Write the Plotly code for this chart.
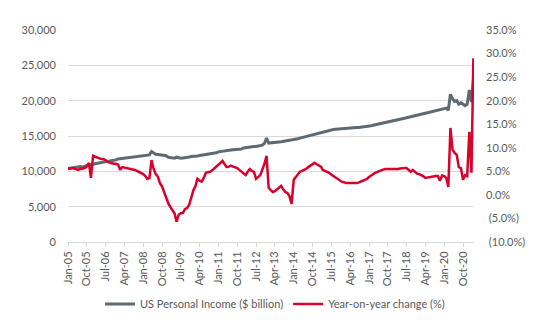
import pandas as pd
import plotly.graph_objects as go

# Monthly dates Jan-2005 .. Mar-2021
months = pd.date_range("2005-01-01", "2021-03-01", freq="MS").strftime("%Y-%m-%d").tolist()

# US Personal Income ($ billion)
income = [
    # 2005
    10400, 10430, 10470, 10520, 10570, 10620, 10680, 10600, 10760, 10830, 10900, 10960,
    # 2006
    11100, 11150, 11200, 11240, 11280, 11320, 11370, 11420, 11460, 11500, 11560, 11620,
    # 2007
    11760, 11800, 11850, 11880, 11900, 11940, 11980, 12010, 12060, 12090, 12130, 12180,
    # 2008
    12260, 12270, 12290, 12330, 12800, 12560, 12420, 12380, 12350, 12330, 12280, 12200,
    # 2009
    11980, 11950, 11900, 11870, 12000, 11880, 11860, 11900, 11920, 11960, 12020, 12100,
    # 2010
    12100, 12130, 12180, 12250, 12300, 12340, 12380, 12420, 12450, 12500, 12550, 12620,
    # 2011
    12760, 12820, 12860, 12910, 12940, 12980, 13020, 13050, 13070, 13100, 13130, 13160,
    # 2012
    13300, 13360, 13420, 13460, 13470, 13500, 13510, 13550, 13600, 13700, 13950, 14700,
    # 2013
    14000, 14050, 14100, 14120, 14140, 14160, 14190, 14240, 14290, 14310, 14330, 14360,
    # 2014
    14450, 14520, 14600, 14700, 14780, 14860, 14940, 15020, 15100, 15180, 15260, 15340,
    # 2015
    15450, 15530, 15600, 15680, 15760, 15830, 15880, 15930, 15970, 16000, 16030, 16060,
    # 2016
    16070, 16090, 16110, 16130, 16150, 16170, 16190, 16210, 16240, 16270, 16300, 16340,
    # 2017
    16400, 16460, 16520, 16580, 16640, 16700, 16760, 16820, 16880, 16940, 17000, 17060,
    # 2018
    17150, 17230, 17310, 17380, 17450, 17520, 17590, 17650, 17720, 17790, 17860, 17930,
    # 2019
    18020, 18090, 18160, 18230, 18300, 18370, 18440, 18510, 18580, 18650, 18700, 18780,
    # 2020
    18850, 18950, 18650, 20900, 20300, 19900, 20000, 19500, 19700, 19500, 19300, 19500,
    # 2021
    21500, 19800, 23000,
]

# Year-on-year change (%)
yoy = [
    # 2005
    5.5, 5.6, 5.7, 5.6, 5.4, 5.3, 5.5, 5.6, 5.7, 6.0, 6.8, 3.6,
    # 2006
    8.3, 8.1, 7.9, 7.8, 7.6, 7.6, 7.4, 7.0, 6.8, 6.7, 6.6, 6.6,
    # 2007
    6.4, 5.3, 5.9, 5.8, 5.7, 5.7, 5.5, 5.4, 5.3, 5.1, 4.9, 4.7,
    # 2008
    4.4, 4.0, 3.4, 3.6, 7.4, 5.5, 4.4, 3.9, 2.5, 1.8, 0.6, -0.8,
    # 2009
    -1.8, -2.6, -3.3, -3.9, -5.7, -4.2, -3.9, -3.8, -3.0, -2.8, -2.1, -0.3,
    # 2010
    1.0, 1.9, 3.4, 3.0, 2.8, 3.6, 4.7, 4.8, 4.9, 5.2, 5.6, 5.9,
    # 2011
    6.4, 6.8, 7.2, 6.5, 5.9, 6.0, 6.2, 6.0, 5.8, 5.7, 5.3, 4.9,
    # 2012
    4.5, 4.2, 4.9, 5.5, 5.1, 4.9, 3.4, 3.8, 4.2, 5.4, 6.6, 8.3,
    # 2013
    1.5, 1.0, 0.6, 0.8, 1.1, 1.5, 1.9, 1.2, 0.6, 0.4, -0.3, -1.9,
    # 2014
    3.2, 3.8, 4.3, 4.9, 5.1, 5.3, 5.5, 5.9, 6.2, 6.5, 6.8, 6.5,
    # 2015
    6.2, 6.0, 5.3, 5.1, 4.9, 4.7, 4.3, 4.0, 3.6, 3.3, 3.0, 2.8,
    # 2016
    2.7, 2.5, 2.5, 2.5, 2.4, 2.5, 2.5, 2.6, 2.9, 3.0, 3.2, 3.4,
    # 2017
    3.8, 4.2, 4.4, 4.7, 4.9, 5.0, 5.2, 5.4, 5.5, 5.5, 5.4, 5.5,
    # 2018
    5.5, 5.5, 5.5, 5.6, 5.7, 5.7, 5.7, 5.2, 4.9, 5.3, 4.9, 4.5,
    # 2019
    4.4, 4.2, 4.0, 3.6, 3.7, 3.8, 3.8, 3.9, 4.0, 4.0, 3.0, 4.1,
    # 2020
    4.0, 3.6, 1.7, 14.2, 9.6, 8.9, 8.5, 5.9, 5.7, 3.2, 4.2, 4.0,
    # 2021
    13.4, 4.7, 29.0,
]

tick_dates = ["2005-01-01", "2005-10-01", "2006-07-01", "2007-04-01", "2008-01-01",
              "2008-10-01", "2009-07-01", "2010-04-01", "2011-01-01", "2011-10-01",
              "2012-07-01", "2013-04-01", "2014-01-01", "2014-10-01", "2015-07-01",
              "2016-04-01", "2017-01-01", "2017-10-01", "2018-07-01", "2019-04-01",
              "2020-01-01", "2020-10-01"]
tick_labels = ["Jan-05", "Oct-05", "Jul-06", "Apr-07", "Jan-08", "Oct-08", "Jul-09",
               "Apr-10", "Jan-11", "Oct-11", "Jul-12", "Apr-13", "Jan-14", "Oct-14",
               "Jul-15", "Apr-16", "Jan-17", "Oct-17", "Jul-18", "Apr-19", "Jan-20",
               "Oct-20"]

left_ticks = [0, 5000, 10000, 15000, 20000, 25000, 30000]
right_ticks = [-10, -5, 0, 5, 10, 15, 20, 25, 30, 35]
right_labels = [" (10.0%)", " (5.0%)", "0.0%", "5.0%", "10.0%", "15.0%", "20.0%",
                "25.0%", "30.0%", "35.0%"]

FONT = "Lato"
TXT = "#595959"
GRID = "#d9d9d9"

fig = go.Figure()
fig.add_trace(go.Scatter(x=months, y=income, mode="lines",
                         name="US Personal Income ($ billion)",
                         line=dict(color="#5e6a72", width=3)))
fig.add_trace(go.Scatter(x=months, y=yoy, mode="lines", yaxis="y2",
                         name="Year-on-year change (%)",
                         line=dict(color="#d9002b", width=2.5)))

fig.update_layout(
    width=550, height=330, autosize=False,
    margin=dict(l=68, r=76, t=30, b=88, autoexpand=False),
    paper_bgcolor="white", plot_bgcolor="white",
    font=dict(family=FONT, size=11, color=TXT),
    showlegend=True,
    legend=dict(orientation="h", x=0.5, xanchor="center", xref="container",
                y=0.079, yanchor="middle", yref="container",
                font=dict(family=FONT, size=11, color=TXT),
                itemwidth=30, tracegroupgap=0),
    xaxis=dict(type="date", range=["2005-01-01", "2021-03-10"],
               tickvals=tick_dates, ticktext=tick_labels, tickangle=-90,
               showgrid=False, showline=True, linecolor=GRID, linewidth=1,
               ticks="outside", ticklen=4, tickcolor=GRID,
               tickfont=dict(family=FONT, size=11, color=TXT), zeroline=False),
    yaxis=dict(range=[0, 30000], tickvals=left_ticks, tickformat=",",
               showgrid=True, gridcolor=GRID, gridwidth=1, zeroline=False,
               showline=False, ticks="", ticklabelstandoff=11,
               tickfont=dict(family=FONT, size=11, color=TXT)),
    yaxis2=dict(range=[-10, 35], overlaying="y", side="right",
                tickvals=right_ticks, ticktext=right_labels,
                showgrid=False, zeroline=False, showline=False, ticks="",
                ticklabelstandoff=11,
                tickfont=dict(family=FONT, size=11, color=TXT)),
)

fig.write_html("out.html")
